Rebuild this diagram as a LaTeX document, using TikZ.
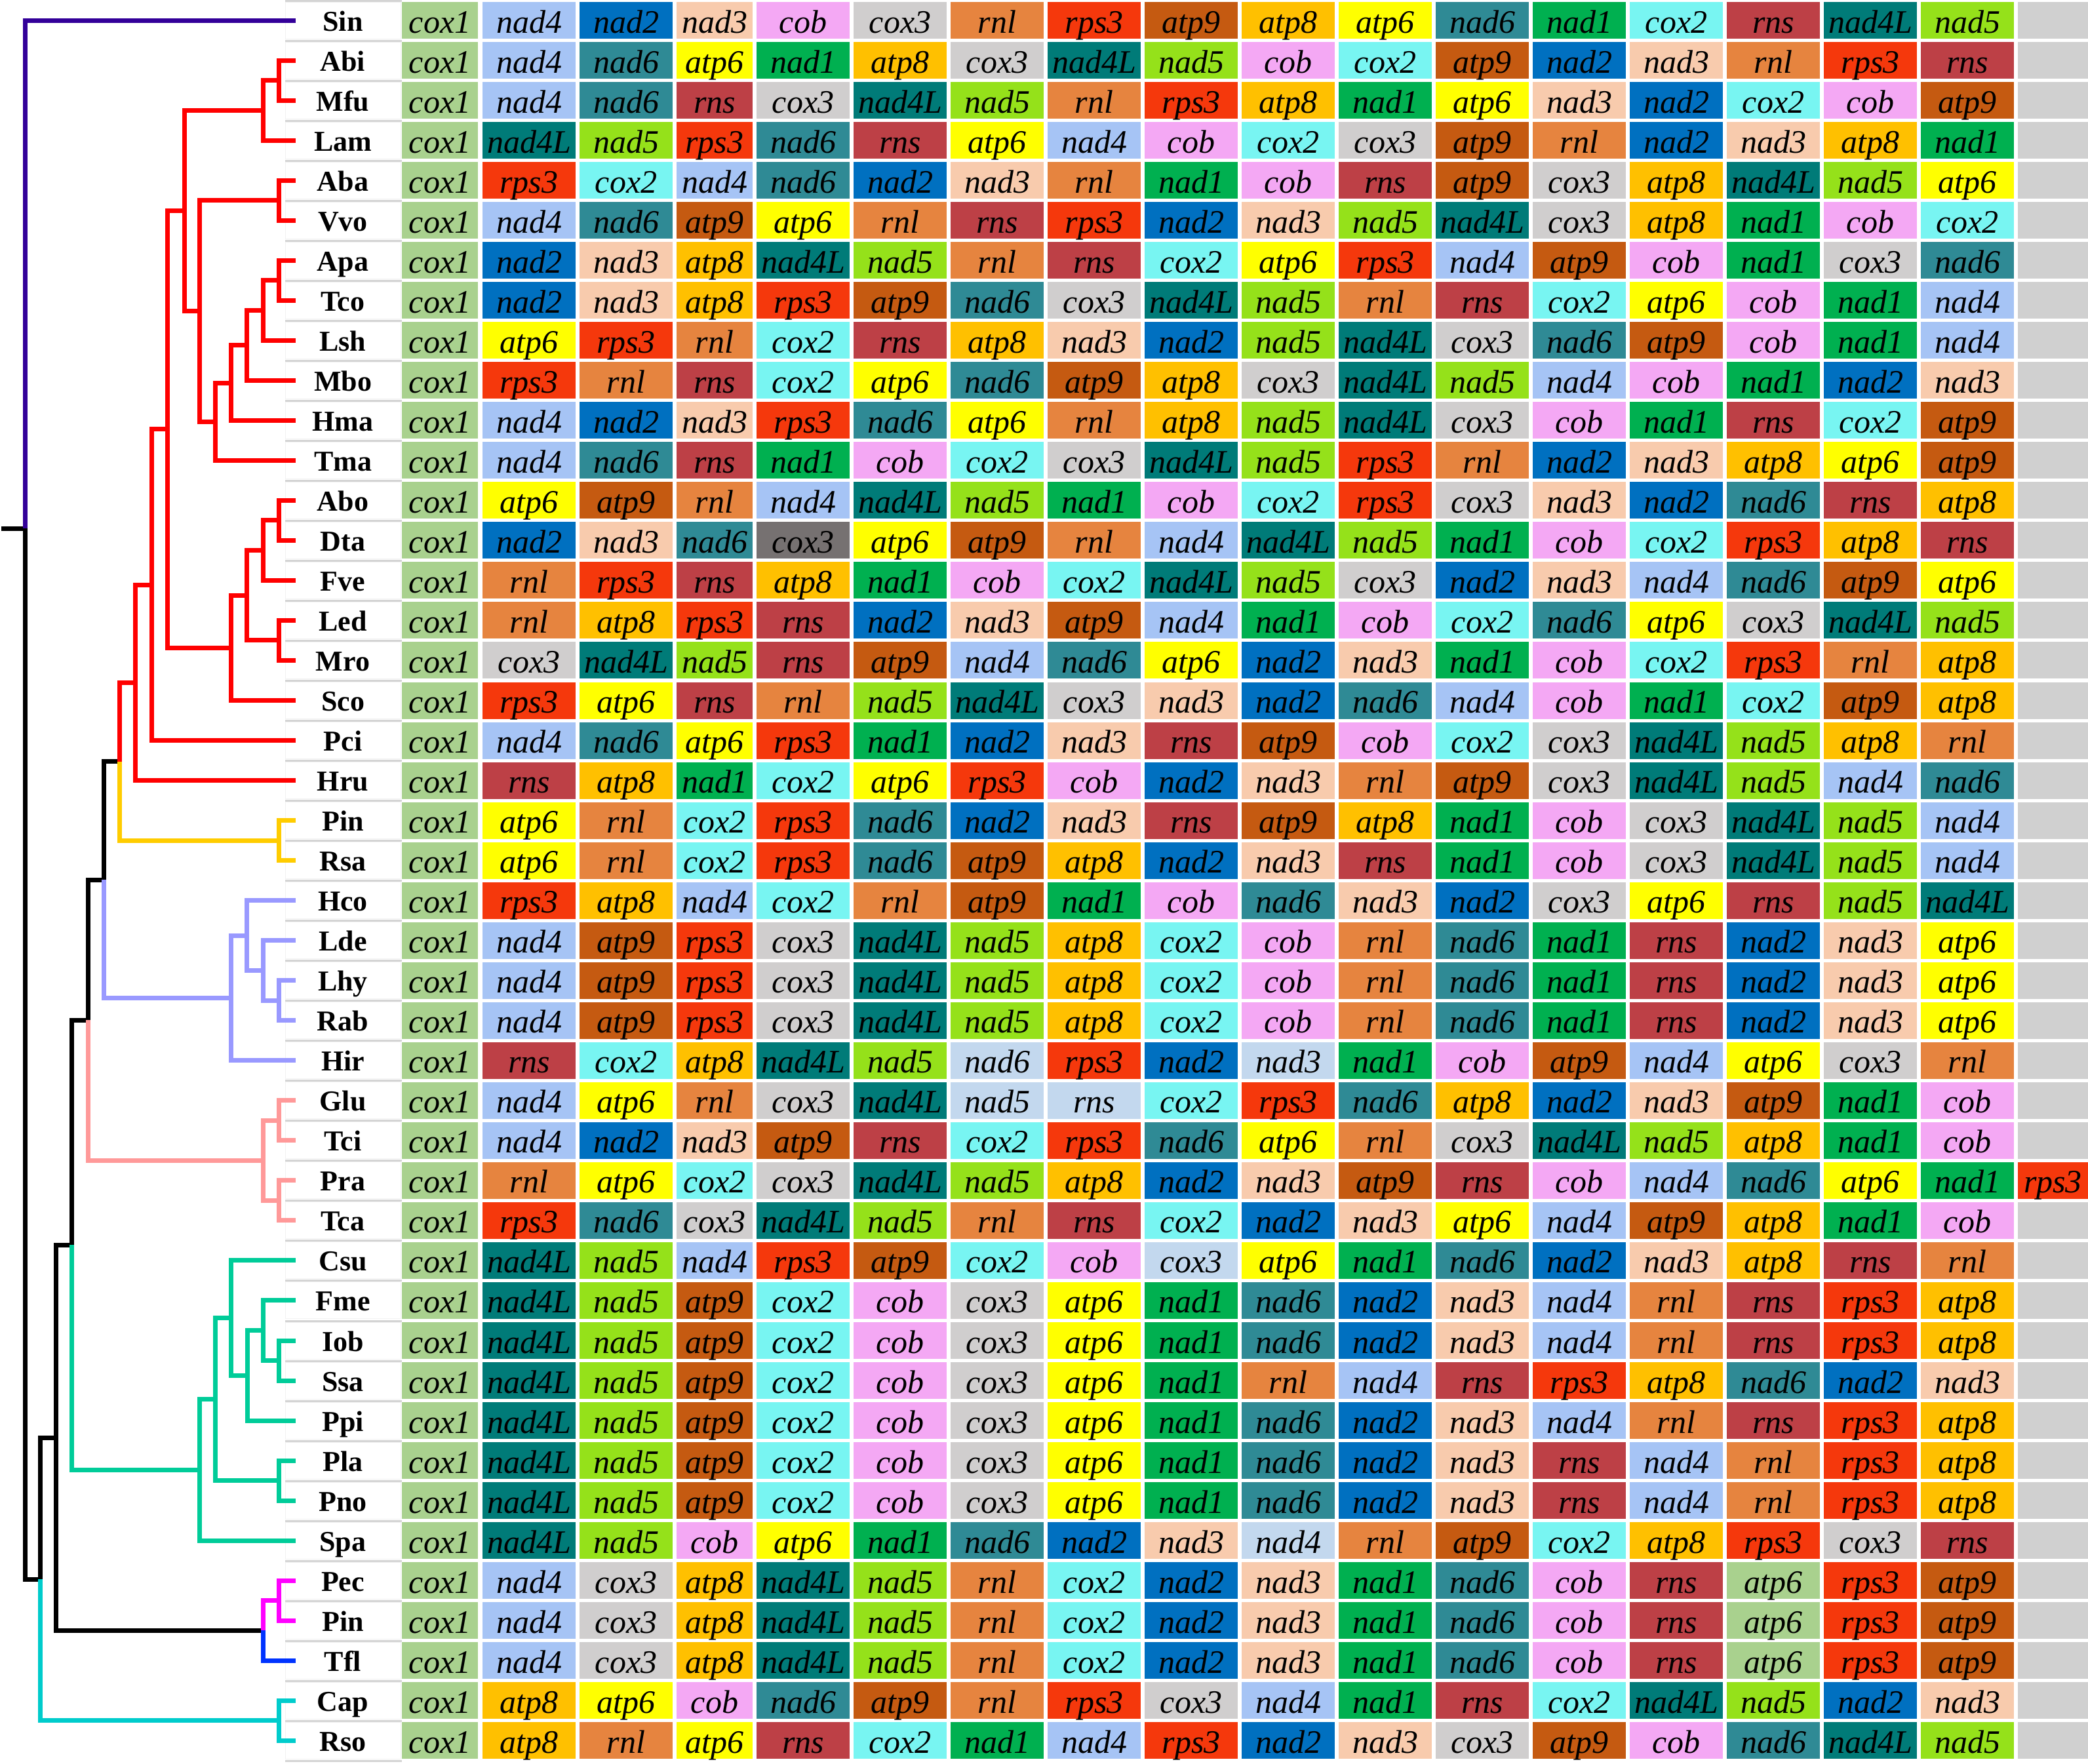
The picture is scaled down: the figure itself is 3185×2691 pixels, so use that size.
\documentclass[tikz,border=0pt]{standalone}
\usepackage{fontspec}
\setmainfont{Liberation Serif}
\usetikzlibrary{calc}
% gene colours
\definecolor{ccox1}{HTML}{A9D18E}
\definecolor{cnad4}{HTML}{A6C4F5}
\definecolor{cnad2}{HTML}{0070C0}
\definecolor{cnad3}{HTML}{F8CBAD}
\definecolor{ccob}{HTML}{F4A8F4}
\definecolor{ccox3}{HTML}{D0CECE}
\definecolor{crnl}{HTML}{E6843F}
\definecolor{crps3}{HTML}{F5380C}
\definecolor{catp9}{HTML}{C55A11}
\definecolor{catp8}{HTML}{FFC000}
\definecolor{catp6}{HTML}{FFFF00}
\definecolor{cnad6}{HTML}{2F8A95}
\definecolor{cnad1}{HTML}{00B050}
\definecolor{ccox2}{HTML}{78F5F2}
\definecolor{crns}{HTML}{BD4046}
\definecolor{cnad4L}{HTML}{007B78}
\definecolor{cnad5}{HTML}{95E11A}
\definecolor{cpale}{HTML}{C3D8EE}
\definecolor{cdark}{HTML}{767171}
\definecolor{cgray}{HTML}{D0D0D0}
\definecolor{csep}{HTML}{D4D4D4}
% tree colours
\definecolor{tSin}{HTML}{330099}
\definecolor{tred}{HTML}{FF0000}
\definecolor{tyel}{HTML}{FFCC00}
\definecolor{tlav}{HTML}{9999FF}
\definecolor{tpink}{HTML}{FF9999}
\definecolor{tgreen}{HTML}{00CC99}
\definecolor{tmag}{HTML}{FF00FF}
\definecolor{tblue}{HTML}{0033FF}
\definecolor{tcyan}{HTML}{00CCCC}

\newcommand\genefont{\fontsize{12.5}{12.5}\selectfont\itshape}
\newcommand\labfont{\fontsize{11}{11}\selectfont\bfseries}

\newcommand\colpos[1]{%
  \ifcase#1\relax\or \def\cx{613}\def\cw{116}%
  \or \def\cx{736}\def\cw{142}%
  \or \def\cx{884}\def\cw{142}%
  \or \def\cx{1032}\def\cw{116}%
  \else \pgfmathsetmacro\cx{1154+148*(#1-5)}\def\cw{142}\fi
  \ifnum#1=18 \def\cw{107}\fi}

\tikzset{
  br/.style={line width=1.75pt, line join=miter},
  cell/.style={inner sep=0pt, outer sep=0pt, minimum height=14pt,
    text height=10pt, text depth=0.5pt, font=\genefont},
  lab/.style={inner sep=0pt, outer sep=0pt, minimum width=44pt, minimum height=14pt,
    text height=8.5pt, text depth=0.5pt, font=\labfont, fill=white,
    draw=black!5, line width=0.25pt},
  sepline/.style={draw=csep, line width=0.75pt},
}

\newcommand\generow[3]{%
  \pgfmathsetmacro\rtop{3+61.03*#1}%
  \node[lab] (L#1) at (523,\rtop+28) {#2};
  \node[cell, fill=cgray, minimum width=26.75pt] (G#1) at (3131.5,\rtop+28) {};
  \foreach \g/\cc [count=\k] in {#3} {%
    \colpos{\k}%
    \node[cell, fill=c\cc, minimum width=\cw*0.25pt] (c#1-\k) at (\cx+\cw/2,\rtop+28) {\g};
  }%
}

\newcommand\branch[3]{\foreach \ch in {#3} {\draw[br,#1] (#2) |- (\ch);}}

\begin{document}
\begin{tikzpicture}[x=0.25pt,y=-0.25pt]
\useasboundingbox (0,0) rectangle (3185,2691);
\fill[white] (0,0) rectangle (3185,2691);

% separators of the label column
\foreach \i in {0,...,44} {\draw[sepline] (435,{1+61.03*\i}) -- (613,{1+61.03*\i});}

% rows
\generow{0}{Sin}{cox1,nad4,nad2,nad3,cob,cox3,rnl,rps3,atp9,atp8,atp6,nad6,nad1,cox2,rns,nad4L,nad5}
\generow{1}{Abi}{cox1,nad4,nad6,atp6,nad1,atp8,cox3,nad4L,nad5,cob,cox2,atp9,nad2,nad3,rnl,rps3,rns}
\generow{2}{Mfu}{cox1,nad4,nad6,rns,cox3,nad4L,nad5,rnl,rps3,atp8,nad1,atp6,nad3,nad2,cox2,cob,atp9}
\generow{3}{Lam}{cox1,nad4L,nad5,rps3,nad6,rns,atp6,nad4,cob,cox2,cox3,atp9,rnl,nad2,nad3,atp8,nad1}
\generow{4}{Aba}{cox1,rps3,cox2,nad4,nad6,nad2,nad3,rnl,nad1,cob,rns,atp9,cox3,atp8,nad4L,nad5,atp6}
\generow{5}{Vvo}{cox1,nad4,nad6,atp9,atp6,rnl,rns,rps3,nad2,nad3,nad5,nad4L,cox3,atp8,nad1,cob,cox2}
\generow{6}{Apa}{cox1,nad2,nad3,atp8,nad4L,nad5,rnl,rns,cox2,atp6,rps3,nad4,atp9,cob,nad1,cox3,nad6}
\generow{7}{Tco}{cox1,nad2,nad3,atp8,rps3,atp9,nad6,cox3,nad4L,nad5,rnl,rns,cox2,atp6,cob,nad1,nad4}
\generow{8}{Lsh}{cox1,atp6,rps3,rnl,cox2,rns,atp8,nad3,nad2,nad5,nad4L,cox3,nad6,atp9,cob,nad1,nad4}
\generow{9}{Mbo}{cox1,rps3,rnl,rns,cox2,atp6,nad6,atp9,atp8,cox3,nad4L,nad5,nad4,cob,nad1,nad2,nad3}
\generow{10}{Hma}{cox1,nad4,nad2,nad3,rps3,nad6,atp6,rnl,atp8,nad5,nad4L,cox3,cob,nad1,rns,cox2,atp9}
\generow{11}{Tma}{cox1,nad4,nad6,rns,nad1,cob,cox2,cox3,nad4L,nad5,rps3,rnl,nad2,nad3,atp8,atp6,atp9}
\generow{12}{Abo}{cox1,atp6,atp9,rnl,nad4,nad4L,nad5,nad1,cob,cox2,rps3,cox3,nad3,nad2,nad6,rns,atp8}
\generow{13}{Dta}{cox1,nad2,nad3,nad6,cox3/dark,atp6,atp9,rnl,nad4,nad4L,nad5,nad1,cob,cox2,rps3,atp8,rns}
\generow{14}{Fve}{cox1,rnl,rps3,rns,atp8,nad1,cob,cox2,nad4L,nad5,cox3,nad2,nad3,nad4,nad6,atp9,atp6}
\generow{15}{Led}{cox1,rnl,atp8,rps3,rns,nad2,nad3,atp9,nad4,nad1,cob,cox2,nad6,atp6,cox3,nad4L,nad5}
\generow{16}{Mro}{cox1,cox3,nad4L,nad5,rns,atp9,nad4,nad6,atp6,nad2,nad3,nad1,cob,cox2,rps3,rnl,atp8}
\generow{17}{Sco}{cox1,rps3,atp6,rns,rnl,nad5,nad4L,cox3,nad3,nad2,nad6,nad4,cob,nad1,cox2,atp9,atp8}
\generow{18}{Pci}{cox1,nad4,nad6,atp6,rps3,nad1,nad2,nad3,rns,atp9,cob,cox2,cox3,nad4L,nad5,atp8,rnl}
\generow{19}{Hru}{cox1,rns,atp8,nad1,cox2,atp6,rps3,cob,nad2,nad3,rnl,atp9,cox3,nad4L,nad5,nad4,nad6}
\generow{20}{Pin}{cox1,atp6,rnl,cox2,rps3,nad6,nad2,nad3,rns,atp9,atp8,nad1,cob,cox3,nad4L,nad5,nad4}
\generow{21}{Rsa}{cox1,atp6,rnl,cox2,rps3,nad6,atp9,atp8,nad2,nad3,rns,nad1,cob,cox3,nad4L,nad5,nad4}
\generow{22}{Hco}{cox1,rps3,atp8,nad4,cox2,rnl,atp9,nad1,cob,nad6,nad3,nad2,cox3,atp6,rns,nad5,nad4L}
\generow{23}{Lde}{cox1,nad4,atp9,rps3,cox3,nad4L,nad5,atp8,cox2,cob,rnl,nad6,nad1,rns,nad2,nad3,atp6}
\generow{24}{Lhy}{cox1,nad4,atp9,rps3,cox3,nad4L,nad5,atp8,cox2,cob,rnl,nad6,nad1,rns,nad2,nad3,atp6}
\generow{25}{Rab}{cox1,nad4,atp9,rps3,cox3,nad4L,nad5,atp8,cox2,cob,rnl,nad6,nad1,rns,nad2,nad3,atp6}
\generow{26}{Hir}{cox1,rns,cox2,atp8,nad4L,nad5,nad6/pale,rps3,nad2,nad3/pale,nad1,cob,atp9,nad4,atp6,cox3,rnl}
\generow{27}{Glu}{cox1,nad4,atp6,rnl,cox3,nad4L,nad5/pale,rns/pale,cox2,rps3,nad6,atp8,nad2,nad3,atp9,nad1,cob}
\generow{28}{Tci}{cox1,nad4,nad2,nad3,atp9,rns,cox2,rps3,nad6,atp6,rnl,cox3,nad4L,nad5,atp8,nad1,cob}
\generow{29}{Pra}{cox1,rnl,atp6,cox2,cox3,nad4L,nad5,atp8,nad2,nad3,atp9,rns,cob,nad4,nad6,atp6,nad1,rps3}
\generow{30}{Tca}{cox1,rps3,nad6,cox3,nad4L,nad5,rnl,rns,cox2,nad2,nad3,atp6,nad4,atp9,atp8,nad1,cob}
\generow{31}{Csu}{cox1,nad4L,nad5,nad4,rps3,atp9,cox2,cob,cox3/pale,atp6,nad1,nad6,nad2,nad3,atp8,rns,rnl}
\generow{32}{Fme}{cox1,nad4L,nad5,atp9,cox2,cob,cox3,atp6,nad1,nad6,nad2,nad3,nad4,rnl,rns,rps3,atp8}
\generow{33}{Iob}{cox1,nad4L,nad5,atp9,cox2,cob,cox3,atp6,nad1,nad6,nad2,nad3,nad4,rnl,rns,rps3,atp8}
\generow{34}{Ssa}{cox1,nad4L,nad5,atp9,cox2,cob,cox3,atp6,nad1,rnl,nad4,rns,rps3,atp8,nad6,nad2,nad3}
\generow{35}{Ppi}{cox1,nad4L,nad5,atp9,cox2,cob,cox3,atp6,nad1,nad6,nad2,nad3,nad4,rnl,rns,rps3,atp8}
\generow{36}{Pla}{cox1,nad4L,nad5,atp9,cox2,cob,cox3,atp6,nad1,nad6,nad2,nad3,rns,nad4,rnl,rps3,atp8}
\generow{37}{Pno}{cox1,nad4L,nad5,atp9,cox2,cob,cox3,atp6,nad1,nad6,nad2,nad3,rns,nad4,rnl,rps3,atp8}
\generow{38}{Spa}{cox1,nad4L,nad5,cob,atp6,nad1,nad6,nad2,nad3,nad4/pale,rnl,atp9,cox2,atp8,rps3,cox3,rns}
\generow{39}{Pec}{cox1,nad4,cox3,atp8,nad4L,nad5,rnl,cox2,nad2,nad3,nad1,nad6,cob,rns,atp6/cox1,rps3,atp9}
\generow{40}{Pin}{cox1,nad4,cox3,atp8,nad4L,nad5,rnl,cox2,nad2,nad3,nad1,nad6,cob,rns,atp6/cox1,rps3,atp9}
\generow{41}{Tfl}{cox1,nad4,cox3,atp8,nad4L,nad5,rnl,cox2,nad2,nad3,nad1,nad6,cob,rns,atp6/cox1,rps3,atp9}
\generow{42}{Cap}{cox1,atp8,atp6,cob,nad6,atp9,rnl,rps3,cox3,nad4,nad1,rns,cox2,nad4L,nad5,nad2,nad3}
\generow{43}{Rso}{cox1,atp8,rnl,atp6,rns,cox2,nad1,nad4,rps3,nad2,nad3,cox3,atp9,cob,nad6,nad4L,nad5}

% ---------- tree ----------
\foreach \i in {0,...,43} {\coordinate (t\i) at (451,{31+61.03*\i});}
\coordinate (stub) at (2,806);
\coordinate (root) at (38,806);
\coordinate (n61) at (61,2409.08);
\coordinate (n85) at (85,2193.38);
\coordinate (n109) at (109,1899.30);
\coordinate (n134) at (134.5,1556.22);
\coordinate (n158) at (158,1342.09);
\coordinate (n182) at (182,1161.75);
\coordinate (n206) at (206,1041.39);
\coordinate (n231) at (231,892.21);
\coordinate (n255) at (255,654.89);
\coordinate (nTop) at (281,321.37);
\coordinate (nAML) at (401,168.32);
\coordinate (nAM) at (425,122.55);
\coordinate (nAVT) at (304,474.42);
\coordinate (nAV) at (425,305.64);
\coordinate (nT) at (328,643.21);
\coordinate (nH) at (352,584.08);
\coordinate (nATLM) at (376,526.87);
\coordinate (nATL) at (401,473.47);
\coordinate (nAT) at (425,427.70);
\coordinate (nS) at (352,988.41);
\coordinate (nADFLM) at (376,908.31);
\coordinate (nADF) at (401,839.65);
\coordinate (nAD) at (425,793.88);
\coordinate (nLM) at (425,976.97);
\coordinate (nPR) at (425,1282.12);
\coordinate (nHir) at (352,1522.42);
\coordinate (nHL) at (376,1427.06);
\coordinate (nLLR) at (401,1480.46);
\coordinate (nLR) at (425,1526.24);
\coordinate (nPink) at (401,1770.36);
\coordinate (nGT) at (425,1709.33);
\coordinate (nPT) at (425,1831.39);
\coordinate (nGreen) at (304,2242.38);
\coordinate (nG328) at (328,2134.63);
\coordinate (nCsu) at (352,2010.66);
\coordinate (nFISP) at (377,2098.39);
\coordinate (nFIS) at (401,2029.73);
\coordinate (nIS) at (425,2075.51);
\coordinate (nPP) at (425,2258.60);
\coordinate (nPPT) at (401,2487.46);
\coordinate (nPP2) at (425,2441.69);
\coordinate (nCR) at (425,2624.78);

% backbone
\draw[br,black] (stub) -- (root);
\branch{tSin}{root}{t0}
\branch{black}{root}{n61}
\branch{black}{n61}{n85}
\branch{black}{n85}{n109,nPPT}
\branch{black}{n109}{n134}
\branch{black}{n134}{n158}
\branch{black}{n158}{n182}
% cyan
\branch{tcyan}{n61}{nCR}
\branch{tcyan}{nCR}{t42,t43}
% magenta / blue
\branch{tmag}{nPPT}{nPP2}
\branch{tmag}{nPP2}{t39,t40}
\branch{tblue}{nPPT}{t41}
% green
\branch{tgreen}{n109}{nGreen}
\branch{tgreen}{nGreen}{nG328,t38}
\branch{tgreen}{nG328}{nCsu,nPP}
\branch{tgreen}{nPP}{t36,t37}
\branch{tgreen}{nCsu}{t31,nFISP}
\branch{tgreen}{nFISP}{nFIS,t35}
\branch{tgreen}{nFIS}{t32,nIS}
\branch{tgreen}{nIS}{t33,t34}
% pink
\branch{tpink}{n134}{nPink}
\branch{tpink}{nPink}{nGT,nPT}
\branch{tpink}{nGT}{t27,t28}
\branch{tpink}{nPT}{t29,t30}
% lavender
\branch{tlav}{n158}{nHir}
\branch{tlav}{nHir}{nHL,t26}
\branch{tlav}{nHL}{t22,nLLR}
\branch{tlav}{nLLR}{t23,nLR}
\branch{tlav}{nLR}{t24,t25}
% yellow
\branch{tyel}{n182}{nPR}
\branch{tyel}{nPR}{t20,t21}
% red
\branch{tred}{n182}{n206}
\branch{tred}{n206}{n231,t19}
\branch{tred}{n231}{n255,t18}
\branch{tred}{n255}{nTop,nS}
\branch{tred}{nTop}{nAML,nAVT}
\branch{tred}{nAML}{nAM,t3}
\branch{tred}{nAM}{t1,t2}
\branch{tred}{nAVT}{nAV,nT}
\branch{tred}{nAV}{t4,t5}
\branch{tred}{nT}{nH,t11}
\branch{tred}{nH}{nATLM,t10}
\branch{tred}{nATLM}{nATL,t9}
\branch{tred}{nATL}{nAT,t8}
\branch{tred}{nAT}{t6,t7}
\branch{tred}{nS}{nADFLM,t17}
\branch{tred}{nADFLM}{nADF,nLM}
\branch{tred}{nADF}{nAD,t14}
\branch{tred}{nAD}{t12,t13}
\branch{tred}{nLM}{t15,t16}
\end{tikzpicture}
\end{document}
